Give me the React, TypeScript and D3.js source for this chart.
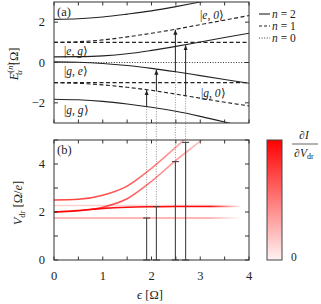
import React from "react";
import * as d3 from "d3";

// detuning grid (epsilon in units of Omega)
const eps = [0, 0.5, 1, 1.5, 2, 2.5, 3, 3.5, 4];

// panel (a): energy levels
const levelEE = [2.14, 2.17, 2.26, 2.4, 2.56, 2.77, 3.0, 3.23, 3.47]; // n=2 top
const levelEG = [0.28, 0.29, 0.33, 0.43, 0.6, 0.8, 1.02, 1.24, 1.45]; // |e,g>
const levelGE = [0.03, 0.01, -0.05, -0.15, -0.29, -0.46, -0.65, -0.84, -1.03]; // |g,e>
const levelGG = [-1.82, -1.85, -1.93, -2.06, -2.22, -2.42, -2.67, -2.95, -3.25]; // |g,g>
const levelE0 = [1, 1.03, 1.12, 1.27, 1.45, 1.65, 1.88, 2.1, 2.33]; // |e,0>
const levelG0 = [-1, -1.03, -1.11, -1.23, -1.38, -1.57, -1.77, -1.97, -2.15]; // |g,0>
const flatN1 = [1, -1];
const flatN0 = [0];

// transitions (arrows in a, bars in b)
const arrowEps = [1.9, 2.1, 2.49, 2.7];
const arrowFrom = [-2.19, -1.42, -0.47, -1.65];
const arrowTo = [-1.35, -0.33, 1.65, 0.88];
const barV = [1.75, 2.23, 4.1, 4.9];

// panel (b): dI/dV ridges
const ridgeLow = [1.75, 1.75, 1.75, 1.75, 1.75, 1.75, 1.75, 1.75, 1.75];
const ridgeFlat = [2.0, 2.06, 2.15, 2.2, 2.22, 2.23, 2.23, 2.23, 2.23];
const ridgeFaint = [2.27, 2.27, 2.27, 2.27, 2.27, 2.27, 2.27, 2.27, 2.27];
const ridgeRiseA = [2.0, 2.05, 2.2, 2.55, 3.28, 4.15, 4.95, 5.8, 6.6];
const ridgeRiseB = [2.5, 2.53, 2.7, 3.08, 3.82, 4.7, 5.6, 6.5, 7.4];

const aTicks = [-2, 0, 2];
const bTicks = [0, 1, 2, 3, 4, 5];
const bLabels = [0, 2, 4];
const xTicks = d3.range(0, 4.01, 0.5);
const xLabels = [0, 1, 2, 3, 4];

const FONT = "'Liberation Serif', serif";
const txt = { fontFamily: FONT };

export default function App() {
  const x = d3.scaleLinear().domain([0, 4]).range([54, 249]);
  const yA = d3.scaleLinear().domain([-3, 3]).range([123, 2]);
  const yB = d3.scaleLinear().domain([0, 5]).range([260, 140]);

  const lineA = (vals: number[]) =>
    d3.line<number>().x((_, i) => x(eps[i])).y((d) => yA(d)).curve(d3.curveMonotoneX)(vals) || "";
  const lineB = (vals: number[]) =>
    d3.line<number>().x((_, i) => x(eps[i])).y((d) => yB(d)).curve(d3.curveMonotoneX)(vals) || "";

  const solids = [levelEE, levelEG, levelGE, levelGG];
  const dashed = [levelE0, levelG0];

  const ridges = [
    { vals: ridgeFaint, grad: "gFaint" },
    { vals: ridgeLow, grad: "gLow" },
    { vals: ridgeRiseB, grad: "gRise" },
    { vals: ridgeRiseA, grad: "gRise" },
    { vals: ridgeFlat, grad: "gFlat" },
  ];

  const fadeStops = (a: number) => (
    <>
      <stop offset="0" stopColor="#ff0000" stopOpacity={a} />
      <stop offset="0.8" stopColor="#ff0000" stopOpacity={a} />
      <stop offset="0.96" stopColor="#ff0000" stopOpacity={0} />
    </>
  );

  const ket = (a: string, b: string, tx: number, ty: number) => (
    <text x={tx} y={ty} fontSize={11.5} style={txt} fill="#222">
      |<tspan fontStyle="italic">{a}</tspan>,{" "}
      <tspan fontStyle="italic">{b}</tspan>⟩
    </text>
  );

  const frame = (top: number, bottom: number) => (
    <rect x={x(0)} y={top} width={x(4) - x(0)} height={bottom - top} fill="none" stroke="#333" strokeWidth={1} />
  );

  return (
    <svg width={321} height={304} style={{ position: "absolute", left: 0, top: 0, fontFamily: FONT }}>
      <defs>
        <clipPath id="clipA">
          <rect x={x(0)} y={yA(3)} width={x(4) - x(0)} height={yA(-3) - yA(3)} />
        </clipPath>
        <clipPath id="clipB">
          <rect x={x(0)} y={yB(5)} width={x(4) - x(0)} height={yB(0) - yB(5)} />
        </clipPath>
        <filter id="blur" x="-5%" y="-50%" width="110%" height="200%">
          <feGaussianBlur stdDeviation="0.6" />
        </filter>
        <linearGradient id="gFlat" gradientUnits="userSpaceOnUse" x1={x(0)} x2={x(4)} y1={0} y2={0}>
          {fadeStops(0.95)}
        </linearGradient>
        <linearGradient id="gLow" gradientUnits="userSpaceOnUse" x1={x(0)} x2={x(4)} y1={0} y2={0}>
          {fadeStops(0.38)}
        </linearGradient>
        <linearGradient id="gFaint" gradientUnits="userSpaceOnUse" x1={x(0)} x2={x(4)} y1={0} y2={0}>
          {fadeStops(0.18)}
        </linearGradient>
        <linearGradient id="gRise" gradientUnits="userSpaceOnUse" x1={x(0)} x2={x(3)} y1={0} y2={0}>
          <stop offset="0" stopColor="#ff0000" stopOpacity={0.75} />
          <stop offset="0.5" stopColor="#ff0000" stopOpacity={0.65} />
          <stop offset="1" stopColor="#ff0000" stopOpacity={0.25} />
        </linearGradient>
        <linearGradient id="cbar" x1="0" x2="0" y1="1" y2="0">
          <stop offset="0" stopColor="#fff2f2" />
          <stop offset="1" stopColor="#ff0000" />
        </linearGradient>
        <marker id="arr" viewBox="0 0 6 6" refX="6" refY="3" markerWidth="5" markerHeight="5" orient="auto">
          <path d="M0,0.5 L6,3 L0,5.5 Z" fill="#222" />
        </marker>
      </defs>

      {/* ---------- panel (a) ---------- */}
      <g clipPath="url(#clipA)" fill="none" stroke="#222" strokeWidth={1.1}>
        {flatN0.map((v) => (
          <line key={"n0" + v} x1={x(0)} x2={x(4)} y1={yA(v)} y2={yA(v)} strokeDasharray="1,1.6" strokeWidth={0.9} />
        ))}
        {flatN1.map((v) => (
          <line key={"n1" + v} x1={x(0)} x2={x(4)} y1={yA(v)} y2={yA(v)} strokeDasharray="4,2.5" />
        ))}
        {dashed.map((vals, i) => (
          <path key={"d" + i} d={lineA(vals)} strokeDasharray="4,2.5" />
        ))}
        {solids.map((vals, i) => (
          <path key={"s" + i} d={lineA(vals)} />
        ))}
      </g>

      {/* dotted guides from (a) arrows down to (b) bars */}
      {arrowEps.map((e, i) => (
        <line key={"g" + i} x1={x(e)} x2={x(e)} y1={yA(arrowFrom[i])} y2={yB(barV[i])} stroke="#777" strokeWidth={0.8} strokeDasharray="1,1.5" />
      ))}

      {arrowEps.map((e, i) => (
        <line key={"a" + i} x1={x(e)} x2={x(e)} y1={yA(arrowFrom[i])} y2={yA(arrowTo[i]) + 0.5} stroke="#222" strokeWidth={1} markerEnd="url(#arr)" />
      ))}

      {frame(yA(3), yA(-3))}
      {xTicks.map((t) => (
        <g key={"ta" + t} stroke="#333">
          <line x1={x(t)} x2={x(t)} y1={yA(3)} y2={yA(3) + 3.5} />
          <line x1={x(t)} x2={x(t)} y1={yA(-3)} y2={yA(-3) - 3.5} />
        </g>
      ))}
      {aTicks.map((t) => (
        <g key={"ya" + t}>
          <line x1={x(0)} x2={x(0) + 4} y1={yA(t)} y2={yA(t)} stroke="#333" />
          <line x1={x(4)} x2={x(4) - 4} y1={yA(t)} y2={yA(t)} stroke="#333" />
          <text x={x(0) - 9} y={yA(t) + 4} textAnchor="end" fontSize={12.5} style={txt} fill="#222">
            {t < 0 ? "−" + Math.abs(t) : t}
          </text>
        </g>
      ))}
      <text x={57} y={16} fontSize={12.5} style={txt} fill="#222">(a)</text>
      {ket("e", "g", 64, 55)}
      {ket("g", "e", 64, 75)}
      {ket("g", "g", 64, 114)}
      {ket("e", "0", 200, 19)}
      {ket("g", "0", 201, 97)}

      <text transform="translate(18,64) rotate(-90)" textAnchor="middle" fontSize={12.5} style={txt} fill="#222">
        <tspan fontStyle="italic">E</tspan>
        <tspan fontSize={8.5} dy={-5}>(<tspan fontStyle="italic">n</tspan>)</tspan>
        <tspan fontSize={8.5} dx={-12} dy={9} fontStyle="italic">α</tspan>
        <tspan dx={5} dy={-4}>[Ω]</tspan>
      </text>

      {/* legend */}
      <g stroke="#222" strokeWidth={1.1}>
        <line x1={259} x2={270} y1={14} y2={14} />
        <line x1={259} x2={270} y1={26} y2={26} strokeDasharray="3,2" />
        <line x1={259} x2={270} y1={38} y2={38} strokeDasharray="1,1.6" strokeWidth={0.9} />
      </g>
      {[2, 1, 0].map((n, i) => (
        <text key={"lg" + n} x={272} y={18 + i * 12} fontSize={11.5} style={txt} fill="#222">
          <tspan fontStyle="italic">n</tspan> = {n}
        </text>
      ))}

      {/* ---------- panel (b) ---------- */}
      <g clipPath="url(#clipB)" fill="none">
        <g filter="url(#blur)">
          {ridges.map((r, i) => (
            <path key={"r" + i} d={lineB(r.vals)} stroke={`url(#${r.grad})`} strokeWidth={1.6} />
          ))}
        </g>
      </g>

      {arrowEps.map((e, i) => (
        <g key={"b" + i} stroke="#444" strokeWidth={1.1}>
          <line x1={x(e)} x2={x(e)} y1={yB(0)} y2={yB(barV[i])} />
          <line x1={x(e) - 3.5} x2={x(e) + 3.5} y1={yB(barV[i])} y2={yB(barV[i])} />
          <line x1={x(e) - 3.5} x2={x(e) + 3.5} y1={yB(0)} y2={yB(0)} />
        </g>
      ))}

      {frame(yB(5), yB(0))}
      {xTicks.map((t) => (
        <g key={"tb" + t} stroke="#333">
          <line x1={x(t)} x2={x(t)} y1={yB(5)} y2={yB(5) + 3.5} />
          <line x1={x(t)} x2={x(t)} y1={yB(0)} y2={yB(0) - 3.5} />
        </g>
      ))}
      {bTicks.map((t) => (
        <g key={"yb" + t} stroke="#333">
          <line x1={x(0)} x2={x(0) + 4} y1={yB(t)} y2={yB(t)} />
          <line x1={x(4)} x2={x(4) - 4} y1={yB(t)} y2={yB(t)} />
        </g>
      ))}
      {bLabels.map((t) => (
        <text key={"lb" + t} x={x(0) - 9} y={yB(t) + 4} textAnchor="end" fontSize={12.5} style={txt} fill="#222">
          {t}
        </text>
      ))}
      {xLabels.map((t) => (
        <text key={"lx" + t} x={x(t)} y={280} textAnchor="middle" fontSize={12.5} style={txt} fill="#222">
          {t}
        </text>
      ))}
      <text x={57} y={154} fontSize={12.5} style={txt} fill="#222">(b)</text>
      <text x={150} y={299} textAnchor="middle" fontSize={12.5} style={txt} fill="#222">
        <tspan fontStyle="italic">ϵ</tspan> [Ω]
      </text>
      <text transform="translate(22,203) rotate(-90)" textAnchor="middle" fontSize={12.5} style={txt} fill="#222">
        <tspan fontStyle="italic">V</tspan>
        <tspan fontSize={8.5} dy={3}>dr</tspan>
        <tspan dy={-3}> [Ω/</tspan>
        <tspan fontStyle="italic">e</tspan>]
      </text>

      {/* colour bar */}
      <rect x={267} y={yB(5)} width={15} height={yB(0) - yB(5)} fill="url(#cbar)" stroke="#444" strokeWidth={1} />
      <text x={291} y={261} fontSize={11.5} style={txt} fill="#222">0</text>
      <text x={304} y={139} textAnchor="middle" fontSize={11.5} style={txt} fill="#222">
        ∂<tspan fontStyle="italic">I</tspan>
      </text>
      <line x1={292} x2={318} y1={144} y2={144} stroke="#222" strokeWidth={0.7} />
      <text x={304} y={157} textAnchor="middle" fontSize={11.5} style={txt} fill="#222">
        ∂<tspan fontStyle="italic">V</tspan>
        <tspan fontSize={8} dy={2}>dr</tspan>
      </text>
    </svg>
  );
}
